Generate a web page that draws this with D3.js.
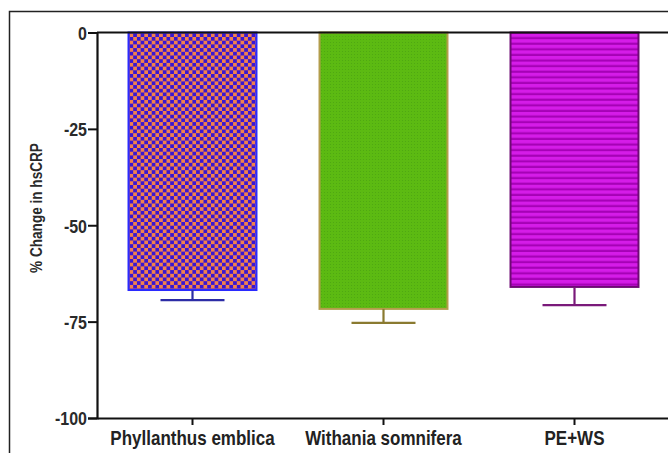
<!DOCTYPE html>
<html>
<head>
<meta charset="utf-8">
<style>
body { margin: 0; background: #fff; }
svg { display: block; }
.lbl { font-family: Arial, "Liberation Sans", sans-serif; font-weight: bold; fill: #222; }
</style>
<script src="https://d3js.org/d3.v7.min.js"></script>
</head>
<body>
<svg width="668" height="453"></svg>
<script>
// data
var groups = ["Phyllanthus emblica", "Withania somnifera", "PE+WS"];
var changes = [-66.8, -71.7, -66.0];
var errors = [2.6, 3.6, 4.7];
var yTicks = [0, -25, -50, -75, -100];

var svg = d3.select("svg");

// frame around the whole figure
svg.append("rect")
   .attr("x", 9.5).attr("y", 11.5)
   .attr("width", 680).attr("height", 460)
   .attr("fill", "none").attr("stroke", "#222").attr("stroke-width", 1.5);

var defs = svg.append("defs");

// orange / blue checkerboard
var chk = defs.append("pattern").attr("id", "chk")
   .attr("patternUnits", "userSpaceOnUse").attr("width", 7.4).attr("height", 7.4);
chk.append("rect").attr("width", 7.4).attr("height", 7.4).attr("fill", "#3a16d2");
chk.append("rect").attr("width", 3.7).attr("height", 3.7).attr("fill", "#f2814c");
chk.append("rect").attr("x", 3.7).attr("y", 3.7).attr("width", 3.7).attr("height", 3.7).attr("fill", "#f2814c");

// fine green dots
var grn = defs.append("pattern").attr("id", "grn")
   .attr("patternUnits", "userSpaceOnUse").attr("width", 3).attr("height", 3);
grn.append("rect").attr("width", 3).attr("height", 3).attr("fill", "#5cba12");
grn.append("rect").attr("width", 1).attr("height", 1).attr("fill", "#4fa812");

// magenta horizontal stripes
var mag = defs.append("pattern").attr("id", "mag")
   .attr("patternUnits", "userSpaceOnUse").attr("width", 10).attr("height", 5.6);
mag.append("rect").attr("width", 10).attr("height", 5.6).attr("fill", "#d51ce8");
mag.append("rect").attr("y", 3.4).attr("width", 10).attr("height", 2.2).attr("fill", "#a602b6");

var fills = ["url(#chk)", "url(#grn)", "url(#mag)"];
var strokes = ["#2a2aff", "#b39d4c", "#6e0a74"];
var errColors = ["#2c2ca6", "#8a7a30", "#7a1a7a"];

var x = d3.scaleBand().domain(groups).range([97, 670])
          .paddingInner(0.33).paddingOuter(0.165);
var y = d3.scaleLinear().domain([-100, 0]).range([418, 32.5]);

// bars
svg.selectAll(".bar").data(groups).enter().append("rect")
   .attr("class", "bar")
   .attr("x", function(d) { return x(d); })
   .attr("y", y(0))
   .attr("width", x.bandwidth())
   .attr("height", function(d, i) { return y(changes[i]) - y(0); })
   .attr("fill", function(d, i) { return fills[i]; })
   .attr("stroke", function(d, i) { return strokes[i]; })
   .attr("stroke-width", 2);

// error bars (downward only)
var eb = svg.selectAll(".err").data(groups).enter().append("g").attr("class", "err")
   .attr("stroke", function(d, i) { return errColors[i]; })
   .attr("stroke-width", 2.2);
eb.append("line")
   .attr("x1", function(d) { return x(d) + x.bandwidth() / 2; })
   .attr("x2", function(d) { return x(d) + x.bandwidth() / 2; })
   .attr("y1", function(d, i) { return y(changes[i]); })
   .attr("y2", function(d, i) { return y(changes[i] - errors[i]); });
eb.append("line")
   .attr("x1", function(d) { return x(d) + x.bandwidth() / 4; })
   .attr("x2", function(d) { return x(d) + x.bandwidth() * 3 / 4; })
   .attr("y1", function(d, i) { return y(changes[i] - errors[i]); })
   .attr("y2", function(d, i) { return y(changes[i] - errors[i]); });

// zero line along the top
svg.append("line")
   .attr("x1", 97).attr("x2", 670)
   .attr("y1", y(0)).attr("y2", y(0))
   .attr("stroke", "#111").attr("stroke-width", 2.2);

// y axis
var yAxis = svg.append("g").attr("transform", "translate(97,0)")
   .call(d3.axisLeft(y).tickValues(yTicks).tickSize(9).tickFormat(function(d) { return d; }));
yAxis.select(".domain").attr("stroke", "#111").attr("stroke-width", 2.2);
yAxis.selectAll(".tick line").attr("stroke", "#111").attr("stroke-width", 2);
yAxis.selectAll(".tick text").remove();
yAxis.selectAll(".tick").append("g")
   .attr("transform", "translate(-10,0) scale(1,1.18)")
   .append("text").attr("class", "lbl")
   .attr("text-anchor", "end").attr("dy", "0.36em")
   .style("font-size", "16px").style("fill", "#2a2a2a")
   .text(function(d) { return d; });

// x axis
var xAxis = svg.append("g").attr("transform", "translate(0," + y(-100) + ")")
   .call(d3.axisBottom(x).tickSize(7).tickSizeOuter(0));
xAxis.select(".domain").attr("stroke", "#111").attr("stroke-width", 2.2);
xAxis.selectAll(".tick line").attr("stroke", "#111").attr("stroke-width", 2);
xAxis.selectAll(".tick text").remove();
xAxis.selectAll(".tick").append("g")
   .attr("transform", "translate(0,27) scale(1,1.2)")
   .append("text").attr("class", "lbl")
   .attr("text-anchor", "middle")
   .style("font-size", "17px")
   .text(function(d) { return d; });

// y axis title
svg.append("g")
   .attr("transform", "translate(42,208) scale(1,0.8) rotate(-90)")
   .append("text").attr("class", "lbl")
   .attr("text-anchor", "middle")
   .style("font-size", "17px").style("fill", "#2a2a2a")
   .text("% Change in hsCRP");
</script>
</body>
</html>
